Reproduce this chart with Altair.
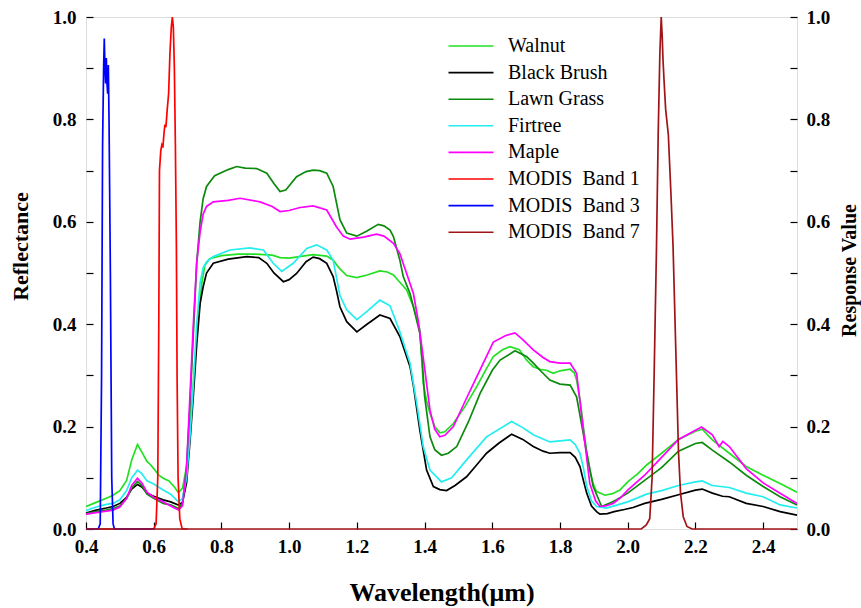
import altair as alt
import pandas as pd

names = ["Walnut", "Black Brush", "Lawn Grass", "Firtree", "Maple",
         "MODIS\u00a0 Band 1", "MODIS\u00a0 Band 3", "MODIS\u00a0 Band 7"]
colors = ["#22e022", "#000000", "#0c8a0c", "#22eef0", "#ff00ff",
          "#ff0000", "#0000ff", "#a01418"]

# ---- reflectance spectra ----
walnut_wl = [0.40, 0.43, 0.46, 0.48, 0.50, 0.52, 0.535, 0.552, 0.565, 0.58, 0.59, 0.60, 0.615, 0.628, 0.645, 0.66,
             0.673, 0.685, 0.697, 0.707, 0.717, 0.725, 0.732, 0.742, 0.751, 0.765, 0.80, 0.85, 0.90, 0.95, 0.973,
             1.00, 1.03, 1.071, 1.111, 1.13, 1.15, 1.17, 1.20, 1.23, 1.268, 1.29, 1.308, 1.327, 1.347, 1.367,
             1.386, 1.396, 1.406, 1.416, 1.43, 1.445, 1.46, 1.485, 1.52, 1.554, 1.58, 1.603, 1.63, 1.652, 1.68,
             1.701, 1.721, 1.74, 1.76, 1.78, 1.80, 1.83, 1.842, 1.849, 1.86, 1.869, 1.878, 1.888, 1.898, 1.908,
             1.933, 1.955, 1.977, 2.00, 2.03, 2.056, 2.10, 2.15, 2.20, 2.22, 2.25, 2.30, 2.35, 2.40, 2.45, 2.50]
walnut_v = [0.044, 0.052, 0.060, 0.066, 0.075, 0.095, 0.135, 0.165, 0.150, 0.132, 0.126, 0.118, 0.105, 0.099, 0.094,
            0.083, 0.071, 0.080, 0.122, 0.200, 0.285, 0.360, 0.415, 0.480, 0.515, 0.528, 0.534, 0.537, 0.537, 0.535,
            0.530, 0.529, 0.532, 0.536, 0.533, 0.525, 0.508, 0.495, 0.491, 0.496, 0.504, 0.502, 0.496, 0.482, 0.467,
            0.434, 0.389, 0.285, 0.250, 0.226, 0.200, 0.188, 0.190, 0.206, 0.240, 0.278, 0.310, 0.337, 0.350, 0.356,
            0.350, 0.330, 0.317, 0.312, 0.310, 0.304, 0.309, 0.312, 0.305, 0.291, 0.250, 0.200, 0.155, 0.115, 0.088,
            0.073, 0.066, 0.069, 0.076, 0.092, 0.108, 0.125, 0.148, 0.175, 0.191, 0.195, 0.174, 0.148, 0.122, 0.105,
            0.089, 0.072]

brush_wl = [0.40, 0.43, 0.46, 0.48, 0.50, 0.52, 0.535, 0.552, 0.565, 0.58, 0.60, 0.628, 0.65, 0.673, 0.685, 0.697,
            0.707, 0.717, 0.727, 0.737, 0.746, 0.756, 0.776, 0.82, 0.875, 0.91, 0.934, 0.955, 0.983, 1.00, 1.022,
            1.05, 1.071, 1.09, 1.111, 1.13, 1.14, 1.15, 1.17, 1.20, 1.23, 1.268, 1.298, 1.327, 1.357, 1.367, 1.386,
            1.406, 1.426, 1.445, 1.465, 1.49, 1.524, 1.55, 1.583, 1.62, 1.657, 1.69, 1.721, 1.75, 1.77, 1.80, 1.83,
            1.845, 1.859, 1.869, 1.879, 1.893, 1.908, 1.918, 1.94, 1.96, 1.99, 2.016, 2.05, 2.10, 2.15, 2.20, 2.22,
            2.25, 2.28, 2.30, 2.35, 2.40, 2.45, 2.50]
brush_v = [0.031, 0.037, 0.041, 0.044, 0.050, 0.062, 0.078, 0.087, 0.082, 0.070, 0.064, 0.057, 0.053, 0.047, 0.052,
           0.090, 0.170, 0.260, 0.360, 0.440, 0.473, 0.500, 0.519, 0.527, 0.532, 0.530, 0.519, 0.500, 0.483, 0.487,
           0.499, 0.522, 0.531, 0.528, 0.519, 0.493, 0.465, 0.434, 0.405, 0.385, 0.400, 0.418, 0.411, 0.376, 0.317,
           0.280, 0.193, 0.115, 0.083, 0.077, 0.075, 0.085, 0.102, 0.122, 0.148, 0.168, 0.185, 0.175, 0.161, 0.152,
           0.148, 0.149, 0.149, 0.140, 0.122, 0.095, 0.070, 0.045, 0.034, 0.029, 0.030, 0.034, 0.038, 0.042, 0.050,
           0.058, 0.067, 0.076, 0.078, 0.070, 0.064, 0.063, 0.050, 0.044, 0.034, 0.027]

grass_wl = [0.40, 0.43, 0.46, 0.48, 0.50, 0.52, 0.535, 0.552, 0.565, 0.58, 0.60, 0.628, 0.65, 0.673, 0.685, 0.697,
            0.707, 0.717, 0.727, 0.737, 0.746, 0.756, 0.78, 0.82, 0.845, 0.87, 0.904, 0.934, 0.955, 0.973, 0.99,
            1.022, 1.05, 1.071, 1.09, 1.111, 1.13, 1.15, 1.17, 1.20, 1.23, 1.263, 1.28, 1.298, 1.308, 1.327, 1.337,
            1.357, 1.367, 1.386, 1.393, 1.40, 1.416, 1.43, 1.45, 1.47, 1.495, 1.53, 1.564, 1.60, 1.623, 1.667,
            1.701, 1.72, 1.741, 1.77, 1.80, 1.83, 1.849, 1.865, 1.879, 1.898, 1.923, 1.945, 1.967, 2.00, 2.05, 2.10,
            2.15, 2.20, 2.22, 2.25, 2.30, 2.35, 2.40, 2.45, 2.50]
grass_v = [0.030, 0.034, 0.037, 0.040, 0.045, 0.060, 0.080, 0.093, 0.085, 0.068, 0.060, 0.050, 0.047, 0.040, 0.050,
           0.120, 0.240, 0.380, 0.520, 0.600, 0.645, 0.669, 0.690, 0.702, 0.708, 0.705, 0.704, 0.695, 0.675, 0.659,
           0.662, 0.688, 0.698, 0.701, 0.700, 0.695, 0.669, 0.604, 0.578, 0.572, 0.582, 0.595, 0.592, 0.584, 0.571,
           0.525, 0.493, 0.460, 0.434, 0.382, 0.330, 0.260, 0.180, 0.155, 0.144, 0.148, 0.161, 0.210, 0.265, 0.310,
           0.330, 0.348, 0.337, 0.325, 0.310, 0.291, 0.283, 0.281, 0.258, 0.200, 0.148, 0.083, 0.044, 0.050, 0.057,
           0.070, 0.095, 0.120, 0.152, 0.167, 0.169, 0.154, 0.131, 0.105, 0.083, 0.063, 0.047]

fir_wl = [0.40, 0.43, 0.46, 0.48, 0.50, 0.52, 0.535, 0.552, 0.565, 0.58, 0.60, 0.628, 0.65, 0.673, 0.685, 0.697,
          0.707, 0.717, 0.727, 0.737, 0.746, 0.756, 0.776, 0.825, 0.884, 0.924, 0.953, 0.978, 1.012, 1.052, 1.081,
          1.111, 1.13, 1.15, 1.17, 1.20, 1.23, 1.268, 1.298, 1.327, 1.357, 1.377, 1.396, 1.416, 1.45, 1.48, 1.524,
          1.583, 1.657, 1.69, 1.721, 1.77, 1.80, 1.83, 1.845, 1.859, 1.869, 1.879, 1.893, 1.908, 1.937, 1.97, 2.00,
          2.056, 2.10, 2.15, 2.20, 2.22, 2.25, 2.30, 2.35, 2.40, 2.45, 2.50]
fir_v = [0.036, 0.043, 0.048, 0.050, 0.057, 0.075, 0.100, 0.115, 0.108, 0.094, 0.088, 0.076, 0.068, 0.053, 0.060,
         0.100, 0.180, 0.280, 0.400, 0.480, 0.510, 0.522, 0.532, 0.545, 0.549, 0.545, 0.519, 0.503, 0.519, 0.548,
         0.555, 0.545, 0.525, 0.456, 0.428, 0.409, 0.425, 0.447, 0.436, 0.385, 0.324, 0.245, 0.161, 0.115, 0.092,
         0.100, 0.135, 0.180, 0.210, 0.198, 0.184, 0.170, 0.172, 0.174, 0.165, 0.148, 0.120, 0.083, 0.055, 0.044,
         0.041, 0.047, 0.053, 0.068, 0.075, 0.085, 0.092, 0.094, 0.085, 0.081, 0.070, 0.063, 0.047, 0.041]

maple_wl = [0.40, 0.43, 0.46, 0.48, 0.50, 0.52, 0.535, 0.552, 0.565, 0.58, 0.60, 0.628, 0.65, 0.673, 0.685, 0.697,
            0.707, 0.717, 0.727, 0.737, 0.746, 0.756, 0.776, 0.82, 0.855, 0.914, 0.95, 0.973, 1.00, 1.032, 1.071,
            1.111, 1.14, 1.16, 1.18, 1.22, 1.258, 1.28, 1.308, 1.327, 1.347, 1.367, 1.381, 1.391, 1.401, 1.416, 1.43,
            1.445, 1.46, 1.485, 1.52, 1.554, 1.603, 1.64, 1.667, 1.69, 1.721, 1.75, 1.77, 1.80, 1.83, 1.849, 1.869,
            1.888, 1.905, 1.918, 1.935, 1.957, 1.98, 2.00, 2.05, 2.10, 2.15, 2.20, 2.218, 2.25, 2.27, 2.281, 2.30,
            2.35, 2.40, 2.45, 2.50]
maple_v = [0.029, 0.032, 0.035, 0.037, 0.043, 0.060, 0.085, 0.099, 0.090, 0.072, 0.062, 0.053, 0.045, 0.037, 0.045,
           0.120, 0.260, 0.400, 0.520, 0.580, 0.615, 0.630, 0.639, 0.642, 0.646, 0.639, 0.630, 0.620, 0.622, 0.628,
           0.631, 0.623, 0.590, 0.572, 0.566, 0.570, 0.576, 0.572, 0.558, 0.538, 0.499, 0.460, 0.408, 0.360, 0.310,
           0.232, 0.195, 0.180, 0.183, 0.200, 0.250, 0.297, 0.365, 0.378, 0.383, 0.370, 0.350, 0.335, 0.327, 0.324,
           0.324, 0.304, 0.193, 0.089, 0.055, 0.044, 0.045, 0.050, 0.062, 0.076, 0.105, 0.140, 0.175, 0.193, 0.199,
           0.184, 0.161, 0.171, 0.161, 0.118, 0.090, 0.070, 0.050]

# ---- MODIS spectral response functions ----
band1_wl = [0.40, 0.600, 0.607, 0.612, 0.615, 0.617, 0.619, 0.621, 0.624, 0.627, 0.630, 0.633, 0.636, 0.640, 0.644,
            0.648, 0.652, 0.655, 0.658, 0.661, 0.664, 0.667, 0.669, 0.672, 0.677, 0.684, 0.70]
band1_v = [0.0, 0.0, 0.01, 0.10, 0.40, 0.70, 0.72, 0.74, 0.75, 0.745, 0.77, 0.79, 0.785, 0.82, 0.85, 0.93, 0.98,
           1.0, 0.98, 0.90, 0.75, 0.55, 0.30, 0.10, 0.02, 0.0, 0.0]

band3_wl = [0.40, 0.436, 0.442, 0.446, 0.449, 0.452, 0.454, 0.456, 0.458, 0.460, 0.462, 0.464, 0.466, 0.468, 0.472,
            0.476, 0.480, 0.484, 0.60]
band3_v = [0.0, 0.0, 0.01, 0.30, 0.75, 0.90, 0.958, 0.90, 0.87, 0.92, 0.87, 0.85, 0.906, 0.80, 0.50, 0.10, 0.01,
           0.0, 0.0]

band7_wl = [0.40, 2.040, 2.055, 2.065, 2.072, 2.078, 2.085, 2.090, 2.095, 2.099, 2.102, 2.104, 2.107, 2.112, 2.120,
            2.128, 2.134, 2.142, 2.150, 2.156, 2.164, 2.175, 2.190, 2.50]
band7_v = [0.0, 0.0, 0.008, 0.02, 0.10, 0.30, 0.55, 0.77, 0.93, 1.0, 0.96, 0.92, 0.88, 0.82, 0.77, 0.65, 0.55,
           0.35, 0.15, 0.07, 0.024, 0.005, 0.0, 0.0]

x_ticks = [0.4, 0.6, 0.8, 1.0, 1.2, 1.4, 1.6, 1.8, 2.0, 2.2, 2.4]
y_ticks = [0.0, 0.1, 0.2, 0.3, 0.4, 0.5, 0.6, 0.7, 0.8, 0.9, 1.0]


def frame(name, wl, v):
    return pd.DataFrame({"wl": wl, "val": v, "series": name})


spec_df = pd.concat([frame(names[0], walnut_wl, walnut_v),
                     frame(names[1], brush_wl, brush_v),
                     frame(names[2], grass_wl, grass_v),
                     frame(names[3], fir_wl, fir_v),
                     frame(names[4], maple_wl, maple_v)], ignore_index=True)
band_df = pd.concat([frame(names[5], band1_wl, band1_v),
                     frame(names[6], band3_wl, band3_v),
                     frame(names[7], band7_wl, band7_v)], ignore_index=True)

FONT = "Liberation Serif"
label_expr = "(round(datum.value*10) % 2 == 0) ? format(datum.value, '.1f') : ''"

x_enc = alt.X("wl:Q",
              scale=alt.Scale(domain=[0.4, 2.5], nice=False, zero=False),
              axis=alt.Axis(values=x_ticks, format=".1f", tickSize=7, offset=-7, domain=False, grid=False,
                            labelFlush=False,
                            labelFont=FONT, labelFontWeight="bold", labelFontSize=19, labelColor="black",
                            labelPadding=8, tickColor="black", tickWidth=1.2,
                            title="Wavelength(\u03bcm)", titleFont=FONT, titleFontWeight="bold",
                            titleFontSize=26, titleColor="black", titleBaseline="middle", titleY=70))

color_enc = alt.Color("series:N",
                      scale=alt.Scale(domain=names, range=colors),
                      legend=alt.Legend(title=None, orient="none", legendX=360, legendY=19,
                                        symbolType="M-1,0H5", symbolSize=225, symbolStrokeWidth=1.6,
                                        labelFont=FONT, labelFontSize=20, labelColor="black",
                                        labelOffset=42, rowPadding=6.6, padding=0, labelLimit=300))

spec = alt.Chart(spec_df).mark_line(strokeWidth=1.7).encode(
    x=x_enc,
    y=alt.Y("val:Q", scale=alt.Scale(domain=[0, 1], nice=False),
            axis=alt.Axis(values=y_ticks, labelExpr=label_expr, tickSize=7, offset=-7, domain=False,
                          grid=False, orient="left", labelFlush=False,
                          labelFont=FONT, labelFontWeight="bold", labelFontSize=19, labelColor="black",
                          labelPadding=10, tickColor="black", tickWidth=1.2,
                          title="Reflectance", titleFont=FONT, titleFontWeight="bold", titleFontSize=22,
                          titleColor="black", titleAngle=270, titleBaseline="middle", titleAlign="center",
                          titleX=-73, titleY=229)),
    color=color_enc,
)

bands = alt.Chart(band_df).mark_line(strokeWidth=1.7).encode(
    x=x_enc,
    y=alt.Y("val:Q", scale=alt.Scale(domain=[0, 1], nice=False),
            axis=alt.Axis(values=y_ticks, labelExpr=label_expr, tickSize=7, offset=-7, domain=False,
                          grid=False, orient="right", labelFlush=False,
                          labelFont=FONT, labelFontWeight="bold", labelFontSize=19, labelColor="black",
                          labelPadding=9, tickColor="black", tickWidth=1.2,
                          title="Response Value", titleFont=FONT, titleFontWeight="bold", titleFontSize=20,
                          titleColor="black", titleAngle=270, titleBaseline="middle", titleAlign="center",
                          titleX=59, titleY=253)),
    color=color_enc,
)

chart = alt.layer(spec, bands).resolve_scale(y="independent").properties(
    width=711, height=512,
    autosize=alt.AutoSizeParams(type="none"),
    padding={"left": 86, "top": 17, "right": 64, "bottom": 79},
).configure_view(stroke="black", strokeWidth=1.5).configure(background="white")

chart.save("out.html", embed_options={"renderer": "svg", "actions": False})
